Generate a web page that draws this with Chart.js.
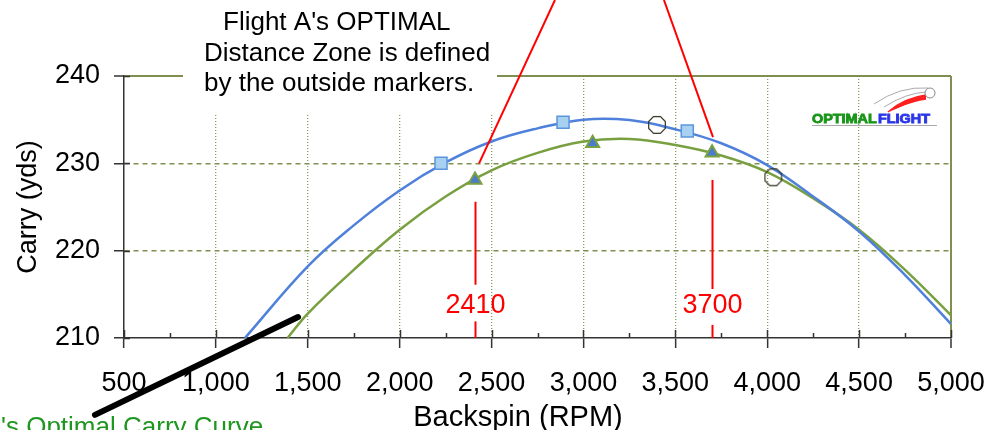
<!DOCTYPE html>
<html>
<head>
<meta charset="utf-8">
<script src="https://cdn.jsdelivr.net/npm/chart.js@4.4.1/dist/chart.umd.min.js"></script>
<style>
  html, body { margin: 0; padding: 0; background: #fff; }
  #wrap { width: 991px; height: 430px; }
</style>
</head>
<body>
<div id="wrap"><canvas id="carryChart" width="991" height="430"></canvas></div>
<script>
    // axis ticks
    var xTicks = [500, 1000, 1500, 2000, 2500, 3000, 3500, 4000, 4500, 5000];
    var yTicks = [210, 220, 230, 240];

    // fitted carry curves
    var blueCurveRpm = [1158, 1500, 1750, 2000, 2250, 2500, 2750, 3000, 3250, 3500, 3750, 4000, 4250, 4500, 4750, 5000];
    var blueCurveCarry = [210.0, 218.2, 222.9, 226.9, 230.1, 232.5, 234.0, 235.0, 234.95, 233.9, 232.3, 229.8, 226.2, 222.2, 217.2, 211.6];
    var greenCurveRpm = [1390, 1500, 1750, 2000, 2250, 2500, 2750, 3000, 3250, 3500, 3750, 4000, 4250, 4500, 4750, 5000];
    var greenCurveCarry = [210.0, 212.8, 217.8, 222.4, 226.2, 229.2, 231.2, 232.5, 232.8, 232.1, 230.9, 229.0, 226.0, 222.4, 217.8, 212.6];

    // measured shots
    var squareRpm = [2225, 2889, 3565];
    var squareCarry = [230.0, 234.7, 233.7];
    var triangleRpm = [2410, 3050, 3700];
    var triangleCarry = [228.1, 232.3, 231.2];
    var octagonRpm = [3400, 4033];
    var octagonCarry = [234.4, 228.4];

    // optimal zone markers
    var zoneRpm = [2410, 3700];
    var zoneLabels = ['2410', '3700'];
    var zoneUpper = [[225.6, 216.1], [228.1, 215.6]];
    var zoneLower = [[211.9, 210], [211.5, 210]];
    var zoneLabelCarry = 213.7;
    // red leader lines [x1, y1, x2, y2] in data units
    var leaders = [[2845, 248.7, 2432, 230.0], [3438, 248.7, 3705, 233.0]];
    // black pointer [x1, y1, x2, y2]
    var pointer = [342, 201.2, 1447, 212.4];

    var FONT = '"Liberation Sans", Arial, sans-serif';
    Chart.defaults.font.family = FONT;
    Chart.defaults.color = '#000';

    function toPoints(xs, ys) {
      return xs.map(function (x, i) { return { x: x, y: ys[i] }; });
    }

    function makeOctagon(r, color) {
      var c = document.createElement('canvas');
      var s = Math.ceil(r * 2 + 4);
      c.width = s;
      c.height = s;
      var g = c.getContext('2d');
      g.strokeStyle = color;
      g.lineWidth = 1.2;
      g.beginPath();
      for (var i = 0; i < 8; i++) {
        var a = Math.PI / 8 + i * Math.PI / 4;
        var px = s / 2 + r * Math.cos(a), py = s / 2 + r * Math.sin(a);
        if (i === 0) g.moveTo(px, py); else g.lineTo(px, py);
      }
      g.closePath();
      g.stroke();
      return c;
    }

    function line(ctx, x1, y1, x2, y2) {
      ctx.beginPath();
      ctx.moveTo(x1, y1);
      ctx.lineTo(x2, y2);
      ctx.stroke();
    }

    var decor = {
      id: 'decor',
      afterDraw: function (chart) {
        var ctx = chart.ctx;
        var xs = chart.scales.x, ys = chart.scales.y;
        var area = chart.chartArea;
        ctx.save();

        // inner halves of the tick marks
        ctx.strokeStyle = '#333';
        ctx.lineWidth = 1.5;
        xTicks.forEach(function (v, i) {
          var px = Math.round(xs.getPixelForValue(v)) + 0.5;
          line(ctx, px, area.bottom, px, area.bottom - 8);
          if (i < xTicks.length - 1) {
            var mx = Math.round(xs.getPixelForValue((v + xTicks[i + 1]) / 2)) + 0.5;
            line(ctx, mx, area.bottom, mx, area.bottom - 5);
          }
        });
        yTicks.forEach(function (v) {
          var py = Math.round(ys.getPixelForValue(v)) + 0.5;
          line(ctx, area.left, py, area.left + 6, py);
        });

        // note box
        ctx.fillStyle = '#fff';
        ctx.fillRect(183, 0, 314, 113);
        ctx.fillStyle = '#000';
        ctx.font = '26px ' + FONT;
        ctx.textAlign = 'left';
        ctx.textBaseline = 'alphabetic';
        ctx.fillText("Flight A's OPTIMAL", 223, 30);
        ctx.fillText('Distance Zone is defined', 204, 61);
        ctx.fillText('by the outside markers.', 204, 91);

        // red leaders
        ctx.strokeStyle = '#ff0000';
        ctx.lineWidth = 2;
        leaders.forEach(function (l) {
          line(ctx, xs.getPixelForValue(l[0]), ys.getPixelForValue(l[1]),
            xs.getPixelForValue(l[2]), ys.getPixelForValue(l[3]));
        });

        // zone verticals and labels
        ctx.font = '27px ' + FONT;
        ctx.textAlign = 'center';
        ctx.textBaseline = 'middle';
        ctx.fillStyle = '#ff0000';
        zoneRpm.forEach(function (v, i) {
          var px = Math.round(xs.getPixelForValue(v)) + 0.5;
          line(ctx, px, ys.getPixelForValue(zoneUpper[i][0]), px, ys.getPixelForValue(zoneUpper[i][1]));
          line(ctx, px, ys.getPixelForValue(zoneLower[i][0]), px, ys.getPixelForValue(zoneLower[i][1]));
          ctx.fillText(zoneLabels[i], px, ys.getPixelForValue(zoneLabelCarry));
        });

        // black pointer
        ctx.strokeStyle = '#000';
        ctx.lineWidth = 6;
        ctx.lineCap = 'round';
        line(ctx, xs.getPixelForValue(pointer[0]), ys.getPixelForValue(pointer[1]),
          xs.getPixelForValue(pointer[2]), ys.getPixelForValue(pointer[3]));
        ctx.lineCap = 'butt';

        // caption (cut by the picture edge)
        ctx.fillStyle = '#1f961f';
        ctx.font = '26px ' + FONT;
        ctx.textAlign = 'left';
        ctx.textBaseline = 'alphabetic';
        ctx.fillText("'s Optimal Carry Curve", 1, 435);

        // x title
        ctx.fillStyle = '#000';
        ctx.font = '29px ' + FONT;
        ctx.textAlign = 'center';
        ctx.fillText('Backspin (RPM)', 518, 426);

        // logo
        ctx.strokeStyle = '#aaa';
        ctx.lineWidth = 1;
        ctx.beginPath();
        ctx.moveTo(874, 104);
        ctx.quadraticCurveTo(900, 86, 928, 88);
        ctx.stroke();
        ctx.beginPath();
        ctx.moveTo(884, 107);
        ctx.quadraticCurveTo(906, 93, 926, 92);
        ctx.stroke();
        ctx.strokeStyle = '#ff2020';
        ctx.lineWidth = 1.5;
        for (var k = 0; k < 6; k++) {
          ctx.beginPath();
          ctx.moveTo(888 + k * 2, 112 - k);
          ctx.quadraticCurveTo(904 + k * 2, 98 + k * 0.5, 926, 95 + k * 0.8);
          ctx.stroke();
        }
        ctx.fillStyle = '#fff';
        ctx.strokeStyle = '#888';
        ctx.lineWidth = 1;
        ctx.beginPath();
        ctx.arc(930, 93, 5, 0, Math.PI * 2);
        ctx.fill();
        ctx.stroke();

        ctx.save();
        ctx.translate(812, 123);
        ctx.scale(1.2, 1);
        ctx.font = 'bold 12px ' + FONT;
        ctx.textAlign = 'left';
        ctx.lineWidth = 0.8;
        ctx.fillStyle = '#1a961a';
        ctx.strokeStyle = '#1a961a';
        ctx.fillText('OPTIMAL', 0, 0);
        ctx.strokeText('OPTIMAL', 0, 0);
        var w = ctx.measureText('OPTIMAL').width + 1;
        ctx.fillStyle = '#2a36e6';
        ctx.strokeStyle = '#2a36e6';
        ctx.fillText('FLIGHT', w, 0);
        ctx.strokeText('FLIGHT', w, 0);
        ctx.restore();
        ctx.strokeStyle = '#aaa';
        line(ctx, 812, 125.5, 937, 125.5);

        ctx.restore();
      }
    };

    var ctx = document.getElementById('carryChart').getContext('2d');
    var carryChart = new Chart(ctx, {
      type: 'scatter',
      data: {
        datasets: [
          {
            data: toPoints(octagonRpm, octagonCarry),
            pointStyle: makeOctagon(9, '#333322'),
            pointRadius: 9
          },
          {
            data: toPoints(triangleRpm, triangleCarry),
            pointStyle: 'triangle',
            pointRadius: 7.5,
            backgroundColor: '#4a7bd0',
            borderColor: '#7aa040',
            borderWidth: 2
          },
          {
            data: toPoints(squareRpm, squareCarry),
            pointStyle: 'rect',
            pointRadius: 8.5,
            backgroundColor: '#a8d0f0',
            borderColor: '#5a95dc',
            borderWidth: 1.5
          },
          {
            data: toPoints(blueCurveRpm, blueCurveCarry),
            showLine: true,
            borderColor: '#4f81dc',
            borderWidth: 2.5,
            pointRadius: 0,
            tension: 0.4
          },
          {
            data: toPoints(greenCurveRpm, greenCurveCarry),
            showLine: true,
            borderColor: '#79a040',
            borderWidth: 2.5,
            pointRadius: 0,
            tension: 0.4
          }
        ]
      },
      options: {
        responsive: false,
        animation: false,
        layout: { padding: { top: 76, right: 40, left: 0, bottom: 0 } },
        plugins: {
          legend: { display: false },
          tooltip: { enabled: false }
        },
        scales: {
          x: {
            type: 'linear',
            min: 500,
            max: 5000,
            afterBuildTicks: function (s) { s.ticks = xTicks.map(function (v) { return { value: v }; }); },
            afterFit: function (s) {
              s.height = 92;
              s.paddingLeft = 0;
              s.paddingRight = 0;
            },
            ticks: {
              font: { size: 27 },
              color: '#000',
              padding: 19,
              maxRotation: 0,
              callback: function (v) { return v.toLocaleString('en-US'); }
            },
            grid: {
              color: function (c) {
                if (!c.tick) return '#333';
                if (c.tick.value === 500) return 'rgba(0,0,0,0)';
                return c.tick.value === 5000 ? '#7f8f4f' : '#8a9c5a';
              },
              lineWidth: function (c) { return c.tick && c.tick.value === 5000 ? 2 : 1.3; },
              tickColor: '#333',
              tickLength: 10,
              tickWidth: 1.5
            },
            border: {
              color: '#333',
              width: 1.5,
              dash: function (c) { return c.tick && c.tick.value === 5000 ? [] : [1, 2]; }
            }
          },
          y: {
            min: 210,
            max: 240,
            afterBuildTicks: function (s) { s.ticks = yTicks.map(function (v) { return { value: v }; }); },
            afterFit: function (s) {
              s.width = 124;
              s.paddingTop = 0;
              s.paddingBottom = 0;
            },
            ticks: {
              font: { size: 27 },
              color: '#000',
              padding: 14
            },
            title: {
              display: true,
              text: 'Carry (yds)',
              font: { size: 27 },
              color: '#000',
              padding: { top: 12, bottom: 0 }
            },
            grid: {
              color: function (c) {
                if (!c.tick) return '#333';
                if (c.tick.value === 210) return 'rgba(0,0,0,0)';
                return '#7f8f4f';
              },
              lineWidth: function (c) { return c.tick && c.tick.value === 240 ? 2 : 1.5; },
              tickColor: '#333',
              tickLength: 10,
              tickWidth: 1.5
            },
            border: {
              color: '#333',
              width: 1.5,
              dash: function (c) { return c.tick && c.tick.value === 240 ? [] : [5, 4]; }
            }
          }
        }
      },
      plugins: [decor]
    });
</script>
</body>
</html>
